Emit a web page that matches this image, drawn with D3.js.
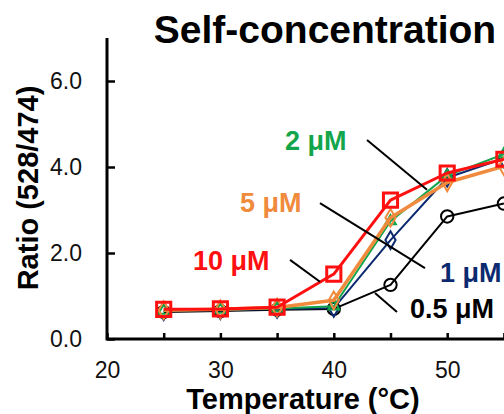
<!DOCTYPE html>
<html>
<head>
<meta charset="utf-8">
<script src="https://cdn.jsdelivr.net/npm/d3@7"></script>
<style>
  body { margin: 0; background: #fff; }
  svg { display: block; font-family: "Liberation Sans", Arial, sans-serif; }
</style>
</head>
<body>
<div id="chart"></div>
<script>
// temperatures (°C)
const temps = [25, 30, 35, 40, 45, 50, 55];

// ratio 528/474 for each concentration
const conc05 = [0.63, 0.65, 0.68, 0.70, 1.26, 2.85, 3.15];
const conc1  = [0.65, 0.67, 0.70, 0.72, 2.30, 3.75, 4.20];
const conc2  = [0.66, 0.68, 0.71, 0.76, 2.74, 3.80, 4.30];
const conc5  = [0.67, 0.69, 0.73, 0.90, 2.82, 3.64, 4.02];
const conc10 = [0.69, 0.70, 0.74, 1.51, 3.23, 3.86, 4.18];

const seriesNames = ["0.5 μM", "1 μM", "2 μM", "5 μM", "10 μM"];
const yTicks = [0, 2, 4, 6];
const xTicks = [20, 25, 30, 35, 40, 45, 50, 55];
const xLabels = [20, 30, 40, 50];

const W = 504, H = 414;
const svg = d3.select("#chart").append("svg")
  .attr("width", W).attr("height", H);

// scales
const x = d3.scaleLinear().domain([20, 60]).range([107, 560.6]);
const y = d3.scaleLinear().domain([0, 7]).range([339, 38]);

// series styling
const series = [
  {name: seriesNames[0], vals: conc05, color: "#000000", lw: 2,   shape: "circle"},
  {name: seriesNames[1], vals: conc1,  color: "#0b2a6f", lw: 2,   shape: "diamond"},
  {name: seriesNames[2], vals: conc2,  color: "#12a54b", lw: 2,   shape: "triangle"},
  {name: seriesNames[3], vals: conc5,  color: "#f08a3c", lw: 3.5, shape: "diamond"},
  {name: seriesNames[4], vals: conc10, color: "#ff1010", lw: 3,   shape: "square"}
];

// title
svg.append("text")
  .attr("x", 325).attr("y", 43)
  .attr("text-anchor", "middle")
  .style("font-size", "39px").style("font-weight", "bold")
  .text("Self-concentration");

// axes (ticks point inward)
const xAxis = d3.axisBottom(x)
  .tickValues(xTicks)
  .tickSizeInner(-6).tickSizeOuter(0).tickPadding(23)
  .tickFormat(d => xLabels.includes(d) ? d : "");
const gx = svg.append("g").attr("transform", "translate(0," + y(0) + ")").call(xAxis);
gx.selectAll(".tick text").filter(d => !xLabels.includes(d)).remove();

const yAxis = d3.axisLeft(y)
  .tickValues(yTicks)
  .tickSizeInner(-8).tickSizeOuter(0).tickPadding(25)
  .tickFormat(d3.format(".1f"));
const gy = svg.append("g").attr("transform", "translate(" + x(20) + ",0)").call(yAxis);

[gx, gy].forEach(g => {
  g.select(".domain").remove();
  g.selectAll(".tick line").attr("stroke", "#000").attr("stroke-width", 2.5);
  g.selectAll(".tick text")
    .style("font-size", "23px")
    .style("font-family", "'Liberation Sans', Arial, sans-serif")
    .attr("fill", "#111");
});
// axis lines with joined corner
svg.append("path")
  .attr("d", d3.line()([[x(20), y(7)], [x(20), y(0)], [W + 5, y(0)]]))
  .attr("fill", "none").attr("stroke", "#000").attr("stroke-width", 3);

// axis titles
svg.append("text")
  .attr("x", 303).attr("y", 409)
  .attr("text-anchor", "middle")
  .style("font-size", "29px").style("font-weight", "bold")
  .text("Temperature (°C)");

svg.append("text")
  .attr("transform", "translate(38,188) rotate(-90)")
  .attr("text-anchor", "middle")
  .style("font-size", "29px").style("font-weight", "bold")
  .text("Ratio (528/474)");

// lines + markers
const line = d3.line()
  .x((d, i) => x(temps[i]))
  .y(d => y(d));

const symbolOf = {
  circle: d3.symbol().type(d3.symbolCircle).size(120),
  diamond: d3.symbol().type(d3.symbolDiamond).size(90),
  triangle: d3.symbol().type(d3.symbolTriangle).size(50),
  square: d3.symbol().type(d3.symbolSquare).size(200)
};

series.forEach(s => {
  const g = svg.append("g");
  g.append("path")
    .attr("d", line(s.vals))
    .attr("fill", "none")
    .attr("stroke", s.color)
    .attr("stroke-width", s.lw)
    .attr("stroke-linejoin", "round");
  g.selectAll("path.mk")
    .data(s.vals)
    .enter().append("path")
      .attr("class", "mk")
      .attr("d", symbolOf[s.shape]())
      .attr("transform", (d, i) => "translate(" + x(temps[i]) + "," + y(d) + ")")
      .attr("fill", "none")
      .attr("stroke", s.color)
      .attr("stroke-width", s.shape === "square" ? 3 : 2);
});

// leader lines, in data units [temp1, ratio1, temp2, ratio2]
const leaders = [
  [42.93, 4.63, 48.22, 3.47],
  [38.78, 3.16, 48.04, 1.65],
  [36.14, 1.84, 38.78, 1.33],
  [43.63, 1.07, 45.57, 0.63]
];
svg.selectAll("line.leader")
  .data(leaders)
  .enter().append("line")
    .attr("class", "leader")
    .attr("x1", d => x(d[0])).attr("y1", d => y(d[1]))
    .attr("x2", d => x(d[2])).attr("y2", d => y(d[3]))
    .attr("stroke", "#000").attr("stroke-width", 2);

// series labels: [temp, ratio] of the left baseline
const labelPos = [
  [46.72, 0.49],
  [49.37, 1.33],
  [35.70, 4.40],
  [31.73, 2.95],
  [27.58, 1.60]
];
series.forEach((s, i) => {
  svg.append("text")
    .attr("x", x(labelPos[i][0]))
    .attr("y", y(labelPos[i][1]))
    .attr("fill", s.color)
    .style("font-size", "27px").style("font-weight", "bold")
    .text(s.name);
});
</script>
</body>
</html>
